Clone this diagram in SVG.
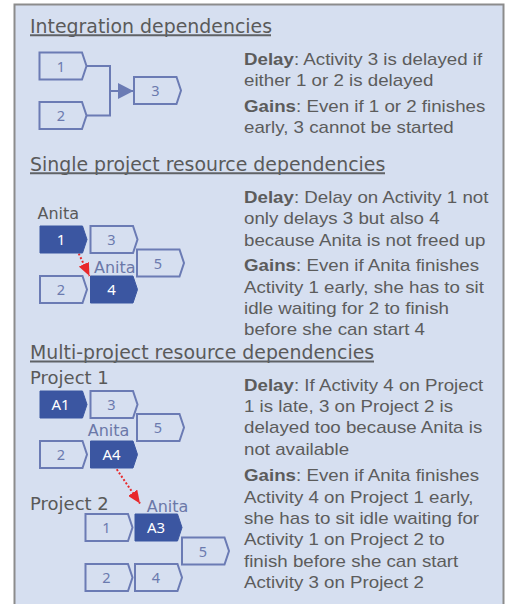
<svg xmlns="http://www.w3.org/2000/svg" width="510" height="604" viewBox="0 0 510 604">
  <style>
    .head { font-family: "DejaVu Sans", Verdana, sans-serif; font-size: 18.9px; fill: #5a5a5a; }
    .rule { stroke: #5f6266; stroke-width: 2; }
    .desc { font-family: "Liberation Sans", Arial, sans-serif; font-size: 16px; fill: #5c5c5c; }
    .desc .b { font-weight: bold; }
    .box { fill: none; stroke: #6b7bb4; stroke-width: 2; }
    .dark { fill: #3b56a1; stroke: #3b56a1; stroke-width: 1; }
    .num { font-family: "Noto Sans", "Open Sans", sans-serif; font-size: 14.5px; fill: #6b7aae; text-anchor: middle; }
    .numw { font-family: "Noto Sans", "Open Sans", sans-serif; font-size: 15px; fill: #ffffff; text-anchor: middle; }
    .who { font-family: "DejaVu Sans", Verdana, sans-serif; font-size: 16px; fill: #595959; }
    .who2 { font-family: "DejaVu Sans", Verdana, sans-serif; font-size: 16px; fill: #6b78a8; }
    .proj { font-family: "DejaVu Sans", Verdana, sans-serif; font-size: 18px; fill: #595959; }
    .link { fill: none; stroke: #6b7bb4; stroke-width: 2; }
    .hand { fill: none; stroke: #e8282b; stroke-width: 2; stroke-dasharray: 2 2; }
  </style>
  <defs>
    <path id="chev" d="M0,0 H42.5 L47,13.5 L42.5,27 H0 Z"/>
    <marker id="tri" markerUnits="userSpaceOnUse" markerWidth="16" markerHeight="16" refX="15.5" refY="8" orient="auto">
      <path d="M0,0 L15.5,8 L0,16 Z" fill="#6b7bb4"/>
    </marker>
    <marker id="redtip" markerUnits="userSpaceOnUse" markerWidth="13" markerHeight="11" refX="13" refY="5.5" orient="auto">
      <path d="M0,0 L13,5.5 L0,11 Z" fill="#e8282b"/>
    </marker>
  </defs>

  <!-- panel -->
  <rect x="14.5" y="4.5" width="489" height="640" fill="#d6dff0" stroke="#8c8c8c" stroke-width="2"/>

  <!-- section headings -->
  <g id="headings">
    <text class="head" x="30" y="32.7">Integration dependencies</text>
    <line class="rule" x1="30" y1="35.2" x2="271" y2="35.2"/>
    <text class="head" x="30" y="170.7">Single project resource dependencies</text>
    <line class="rule" x1="30" y1="173.2" x2="385" y2="173.2"/>
    <text class="head" x="30" y="359">Multi-project resource dependencies</text>
    <line class="rule" x1="30" y1="361.5" x2="374" y2="361.5"/>
  </g>

  <!-- connectors -->
  <g id="connectors">
    <path class="link" d="M86.5,66 H110 V115.5 H86.5"/>
    <path class="link" d="M110,91 H133.5" marker-end="url(#tri)"/>
    <path class="hand" d="M77,250 L89.5,276" marker-end="url(#redtip)"/>
    <path class="hand" d="M114.5,466 L140,503.5" marker-end="url(#redtip)"/>
  </g>

  <!-- integration dependencies -->
  <g id="int-1"><use href="#chev" class="box" x="39.5" y="52.5"/><text class="num" x="61" y="71.5">1</text></g>
  <g id="int-2"><use href="#chev" class="box" x="39.5" y="102"/><text class="num" x="61" y="121">2</text></g>
  <g id="int-3"><use href="#chev" class="box" x="134" y="77"/><text class="num" x="155.5" y="96">3</text></g>

  <!-- single project resource dependencies -->
  <text class="who" x="37.5" y="219.3">Anita</text>
  <g id="sp-1"><use href="#chev" class="dark" x="40" y="226"/><text class="numw" x="61" y="245">1</text></g>
  <g id="sp-3"><use href="#chev" class="box" x="90.5" y="226"/><text class="num" x="111.5" y="245">3</text></g>
  <g id="sp-5"><use href="#chev" class="box" x="137" y="249.5"/><text class="num" x="158" y="268.5">5</text></g>
  <text class="who2" x="94" y="273.3">Anita</text>
  <g id="sp-2"><use href="#chev" class="box" x="40" y="276"/><text class="num" x="61" y="295">2</text></g>
  <g id="sp-4"><use href="#chev" class="dark" x="90.5" y="276"/><text class="numw" x="111.5" y="295">4</text></g>

  <!-- multi-project resource dependencies: project 1 -->
  <text class="proj" x="30" y="384.3">Project 1</text>
  <g id="p1-a1"><use href="#chev" class="dark" x="40" y="391"/><text class="numw" x="60.5" y="410">A1</text></g>
  <g id="p1-3"><use href="#chev" class="box" x="90.5" y="391"/><text class="num" x="111.5" y="410">3</text></g>
  <g id="p1-5"><use href="#chev" class="box" x="137" y="414"/><text class="num" x="158" y="433">5</text></g>
  <text class="who2" x="87.7" y="436">Anita</text>
  <g id="p1-2"><use href="#chev" class="box" x="40" y="441"/><text class="num" x="61" y="460">2</text></g>
  <g id="p1-a4"><use href="#chev" class="dark" x="90.5" y="441"/><text class="numw" x="111.5" y="460">A4</text></g>

  <!-- multi-project resource dependencies: project 2 -->
  <text class="proj" x="30" y="510">Project 2</text>
  <text class="who2" x="146.7" y="511.7">Anita</text>
  <g id="p2-1"><use href="#chev" class="box" x="85.5" y="514"/><text class="num" x="106.5" y="533">1</text></g>
  <g id="p2-a3"><use href="#chev" class="dark" x="135" y="514"/><text class="numw" x="156" y="533">A3</text></g>
  <g id="p2-5"><use href="#chev" class="box" x="182" y="537.5"/><text class="num" x="203" y="556.5">5</text></g>
  <g id="p2-2"><use href="#chev" class="box" x="85.5" y="564"/><text class="num" x="106.5" y="583">2</text></g>
  <g id="p2-4"><use href="#chev" class="box" x="135" y="564"/><text class="num" x="156" y="583">4</text></g>

  <!-- explanations -->
  <g class="desc" transform="translate(244 0) scale(1.17 1)">
    <text x="0" y="65"><tspan class="b">Delay</tspan>: Activity 3 is delayed if</text>
    <text x="0" y="86">either 1 or 2 is delayed</text>
    <text x="0" y="112"><tspan class="b">Gains</tspan>: Even if 1 or 2 finishes</text>
    <text x="0" y="133">early, 3 cannot be started</text>

    <text x="0" y="203"><tspan class="b">Delay</tspan>: Delay on Activity 1 not</text>
    <text x="0" y="224.3">only delays 3 but also 4</text>
    <text x="0" y="245.6">because Anita is not freed up</text>
    <text x="0" y="271.5"><tspan class="b">Gains</tspan>: Even if Anita finishes</text>
    <text x="0" y="292.8">Activity 1 early, she has to sit</text>
    <text x="0" y="314.1">idle waiting for 2 to finish</text>
    <text x="0" y="335.4">before she can start 4</text>

    <text x="0" y="390.7"><tspan class="b">Delay</tspan>: If Activity 4 on Project</text>
    <text x="0" y="412">1 is late, 3 on Project 2 is</text>
    <text x="0" y="433.3">delayed too because Anita is</text>
    <text x="0" y="454.6">not available</text>
    <text x="0" y="481.5"><tspan class="b">Gains</tspan>: Even if Anita finishes</text>
    <text x="0" y="502.8">Activity 4 on Project 1 early,</text>
    <text x="0" y="524.1">she has to sit idle waiting for</text>
    <text x="0" y="545.4">Activity 1 on Project 2 to</text>
    <text x="0" y="566.7">finish before she can start</text>
    <text x="0" y="588">Activity 3 on Project 2</text>
  </g>
</svg>
